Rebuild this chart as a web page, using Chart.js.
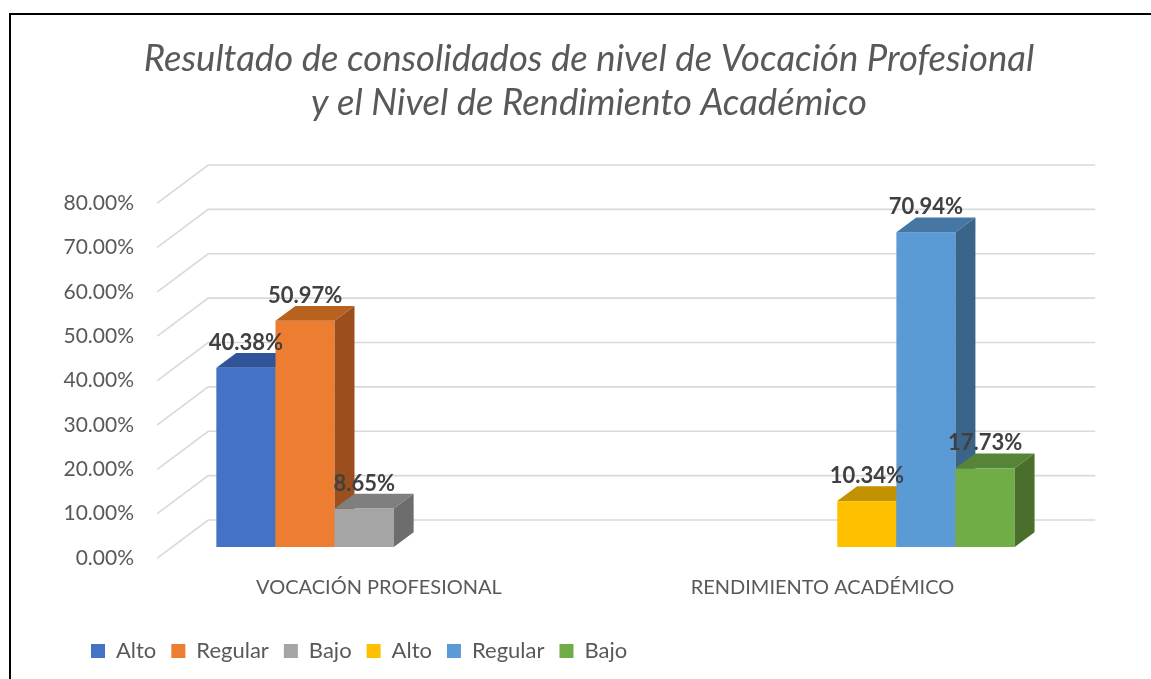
<!DOCTYPE html>
<html>
<head>
<meta charset="utf-8">
<script src="https://cdn.jsdelivr.net/npm/chart.js@4.4.0/dist/chart.umd.min.js"></script>
<style>
  html, body { margin: 0; padding: 0; background: #fff; overflow: hidden; }
  #frame { position: absolute; left: 9px; top: 13px; width: 1400px; height: 900px;
           border-left: 2px solid #000; border-top: 2px solid #000; }
  #wrap { position: absolute; left: 0; top: 0; width: 1151px; height: 679px; }
</style>
</head>
<body>
<div id="frame"></div>
<div id="wrap"><canvas id="barChart"></canvas></div>
<script>
const categories = ['VOCACIÓN PROFESIONAL', 'RENDIMIENTO ACADÉMICO'];
const seriesNames = ['Alto', 'Regular', 'Bajo', 'Alto', 'Regular', 'Bajo'];
const vocacion = [40.38, 50.97, 8.65];
const rendimiento = [10.34, 70.94, 17.73];
const yTicks = [0, 10, 20, 30, 40, 50, 60, 70, 80];

const frontColors = ['#4472C4', '#ED7D31', '#A5A5A5', '#FFC000', '#5B9BD5', '#70AD47'];
const topColors   = ['#30549a', '#b9621f', '#7f7f7f', '#c29200', '#4677a4', '#568537'];
const sideColors  = ['#2a4a85', '#9c4f1d', '#6d6d6d', '#a67d00', '#3b6489', '#4a6f2c'];

// fake 3d: floor depth and where the bars sit inside it
const FLOOR = { x: 51, y: -38 };
const BAR_START = 0.29;
const BAR_DEPTH = 0.39;
const FRONT = { x: -FLOOR.x * BAR_START, y: -FLOOR.y * BAR_START };
const BACK = { x: FLOOR.x * (1 - BAR_START), y: FLOOR.y * (1 - BAR_START) };
const DEPTH = { x: FLOOR.x * BAR_DEPTH, y: FLOOR.y * BAR_DEPTH };

const FONT = 'Lato';
const TEXT = '#595959';

const datasets = seriesNames.map((name, i) => ({
  label: name,
  data: i < 3 ? [vocacion[i], null] : [null, rendimiento[i - 3]],
  backgroundColor: frontColors[i],
  borderWidth: 0
}));

const bars3d = {
  id: 'bars3d',
  afterLayout(chart) {
    // legend starts near the left edge, not at the layout padding
    const lg = chart.legend;
    const dx = 91 - (lg.left + lg.options.labels.padding);
    lg.left += dx;
    lg.right += dx;
  },
  beforeDatasetsDraw(chart) {
    const ctx = chart.ctx;
    const area = chart.chartArea;
    const yScale = chart.scales.y;

    ctx.save();
    // walls
    ctx.strokeStyle = '#d9d9d9';
    ctx.lineWidth = 1.6;
    yTicks.forEach(v => {
      const py = yScale.getPixelForValue(v);
      ctx.beginPath();
      ctx.moveTo(area.left + FRONT.x, py + FRONT.y);
      ctx.lineTo(area.left + BACK.x, py + BACK.y);
      ctx.lineTo(area.right + BACK.x, py + BACK.y);
      ctx.stroke();
    });

    // bars, left to right
    const labels = [];
    chart.data.datasets.forEach((ds, i) => {
      const meta = chart.getDatasetMeta(i);
      meta.data.forEach((bar, j) => {
        if (ds.data[j] == null) return;
        const p = bar.getProps(['x', 'y', 'base', 'width'], true);
        const x0 = p.x - p.width / 2, x1 = p.x + p.width / 2;
        ctx.fillStyle = frontColors[i];
        ctx.fillRect(x0, p.y, p.width, p.base - p.y);
        ctx.fillStyle = topColors[i];
        ctx.beginPath();
        ctx.moveTo(x0, p.y);
        ctx.lineTo(x1, p.y);
        ctx.lineTo(x1 + DEPTH.x, p.y + DEPTH.y);
        ctx.lineTo(x0 + DEPTH.x, p.y + DEPTH.y);
        ctx.closePath();
        ctx.fill();
        ctx.fillStyle = sideColors[i];
        ctx.beginPath();
        ctx.moveTo(x1, p.y);
        ctx.lineTo(x1 + DEPTH.x, p.y + DEPTH.y);
        ctx.lineTo(x1 + DEPTH.x, p.base + DEPTH.y);
        ctx.lineTo(x1, p.base);
        ctx.closePath();
        ctx.fill();
        labels.push({ x: p.x, y: p.y, text: ds.data[j].toFixed(2) + '%' });
      });
    });

    // data labels
    ctx.fillStyle = '#404040';
    ctx.font = 'bold 22px ' + FONT;
    ctx.textAlign = 'center';
    ctx.textBaseline = 'middle';
    labels.forEach(l => ctx.fillText(l.text, l.x, l.y - 25));
    ctx.restore();
    return false;
  }
};

new Chart(document.getElementById('barChart'), {
  type: 'bar',
  data: { labels: categories, datasets: datasets },
  options: {
    responsive: true,
    maintainAspectRatio: false,
    animation: false,
    layout: { padding: { left: 27, right: 0, top: 0, bottom: 7 } },
    datasets: { bar: { barPercentage: 1, categoryPercentage: 0.8 } },
    scales: {
      x: {
        grid: { display: false, drawTicks: false },
        border: { display: false },
        ticks: { color: TEXT, font: { family: FONT, size: 20 }, padding: 29,
                 labelOffset: FRONT.x, maxRotation: 0, autoSkip: false },
        afterFit(s) { s.height = 78; }
      },
      y: {
        min: 0, max: 80,
        grid: { display: false, drawTicks: false },
        border: { display: false },
        ticks: { stepSize: 10, color: TEXT, font: { family: FONT, size: 21 }, padding: 38,
                 labelOffset: FRONT.y, callback: v => v.toFixed(2) + '%' },
        afterFit(s) { s.width = 145; }
      },
      y2: {
        position: 'right',
        grid: { display: false, drawTicks: false },
        border: { display: false },
        ticks: { display: false },
        afterFit(s) { s.width = 92; }
      }
    },
    plugins: {
      title: {
        display: true,
        text: ['Resultado de consolidados de nivel de Vocación Profesional',
               'y el Nivel de Rendimiento Académico'],
        color: TEXT,
        font: { family: FONT, size: 36.5, style: 'italic', weight: 'normal', lineHeight: 44 / 36.5 },
        padding: { top: 37, bottom: 67 }
      },
      legend: {
        position: 'bottom',
        align: 'start',
        labels: { boxWidth: 14, boxHeight: 14, padding: 15, color: TEXT,
                  font: { family: FONT, size: 22 } }
      },
      tooltip: { enabled: false }
    }
  },
  plugins: [bars3d]
});
</script>
</body>
</html>
